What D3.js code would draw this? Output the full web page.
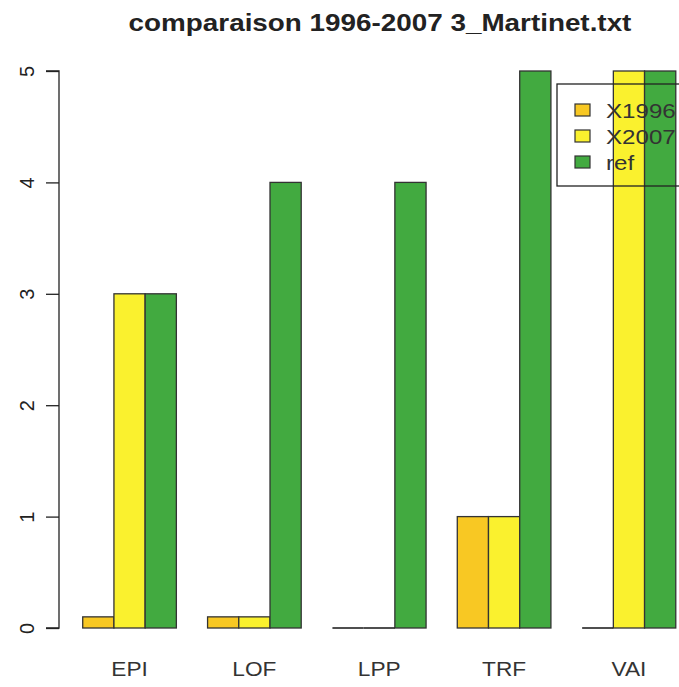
<!DOCTYPE html>
<html>
<head>
<meta charset="utf-8">
<script src="https://cdn.jsdelivr.net/npm/d3@7"></script>
<style>
  html, body { margin: 0; padding: 0; background: #fff; }
  svg { display: block; font-family: "Liberation Sans", Arial, sans-serif; }
</style>
</head>
<body>
<svg id="chart" width="679" height="687"></svg>
<script>
const title = "comparaison 1996-2007 3_Martinet.txt";
const categories = ["EPI", "LOF", "LPP", "TRF", "VAI"];
const seriesNames = ["X1996", "X2007", "ref"];
const X1996 = [0.1, 0.1, 0, 1, 0];
const X2007 = [3, 0.1, 0, 1, 5];
const ref = [3, 4, 4, 5, 5];
const yTicks = [0, 1, 2, 3, 4, 5];
const colors = ["#F8C823", "#FAF12E", "#42AA40"];

const series = [X1996, X2007, ref];
const svg = d3.select("#chart");

// R barplot style coordinates: bar width 1, space 1 between groups
const xBar = d3.scaleLinear().domain([0.24, 20.76]).range([59, 699.5]);
const y = d3.scaleLinear().domain([0, 5]).range([628, 71]);

const bars = [];
categories.forEach((c, i) => {
  series.forEach((s, j) => {
    const left = 1 + i * 4 + j;
    bars.push({ cat: c, j, v: s[i], left });
  });
});

const bg = svg.append("g");
bg.selectAll("rect").data(bars.filter(d => d.v > 0)).enter().append("rect")
  .attr("x", d => xBar(d.left))
  .attr("width", d => xBar(d.left + 1) - xBar(d.left))
  .attr("y", d => y(d.v))
  .attr("height", d => y(0) - y(d.v))
  .attr("fill", d => colors[d.j])
  .attr("stroke", "#333")
  .attr("stroke-width", 1.3);
// zero-height bars drawn as a flat line (as R does)
bg.selectAll("line").data(bars.filter(d => d.v === 0)).enter().append("line")
  .attr("x1", d => xBar(d.left))
  .attr("x2", d => xBar(d.left + 1))
  .attr("y1", y(0)).attr("y2", y(0))
  .attr("stroke", "#222")
  .attr("stroke-width", 1.6);

// y axis
const yAxis = d3.axisLeft(y).tickValues(yTicks).tickSize(13).tickFormat(d3.format("d"));
const ga = svg.append("g").attr("transform", "translate(59,0)").call(yAxis);
ga.select(".domain").attr("stroke", "#222").attr("stroke-width", 1.3)
  .attr("d", `M-13,${y(5)}H0V${y(0)}H-13`);
ga.selectAll(".tick line").attr("stroke", "#222").attr("stroke-width", 1.3);
ga.selectAll(".tick text")
  .attr("x", 0).attr("y", 0).attr("dy", null)
  .attr("transform", "translate(-32,0) rotate(-90)")
  .attr("text-anchor", "middle")
  .attr("dominant-baseline", "central")
  .attr("font-size", 20)
  .attr("fill", "#222")
  .attr("font-family", "Liberation Sans, Arial, sans-serif");

// x labels
svg.append("g").selectAll("text").data(categories).enter().append("text")
  .attr("transform", (d, i) => `translate(${xBar(1 + i * 4 + 1.5)},676) scale(1.08,1)`)
  .attr("text-anchor", "middle")
  .attr("font-size", 21)
  .attr("fill", "#333")
  .text(d => d);

// title
svg.append("text")
  .attr("transform", "translate(380,31) scale(1.16,1)")
  .attr("text-anchor", "middle")
  .attr("font-size", 24)
  .attr("font-weight", "bold")
  .attr("fill", "#222")
  .text(title);

// legend
const lg = svg.append("g");
lg.append("rect")
  .attr("x", 557).attr("y", 84).attr("width", 140).attr("height", 102)
  .attr("fill", "none").attr("stroke", "#222").attr("stroke-width", 1.3);
seriesNames.forEach((n, j) => {
  const cy = 110 + j * 26;
  lg.append("rect")
    .attr("x", 575).attr("y", cy - 6).attr("width", 15).attr("height", 12)
    .attr("fill", colors[j]).attr("stroke", "#333").attr("stroke-width", 1.2);
  lg.append("text")
    .attr("transform", `translate(606,${cy + 8}) scale(1.15,1)`)
    .attr("font-size", 21).attr("fill", "#333")
    .text(n);
});
</script>
</body>
</html>
